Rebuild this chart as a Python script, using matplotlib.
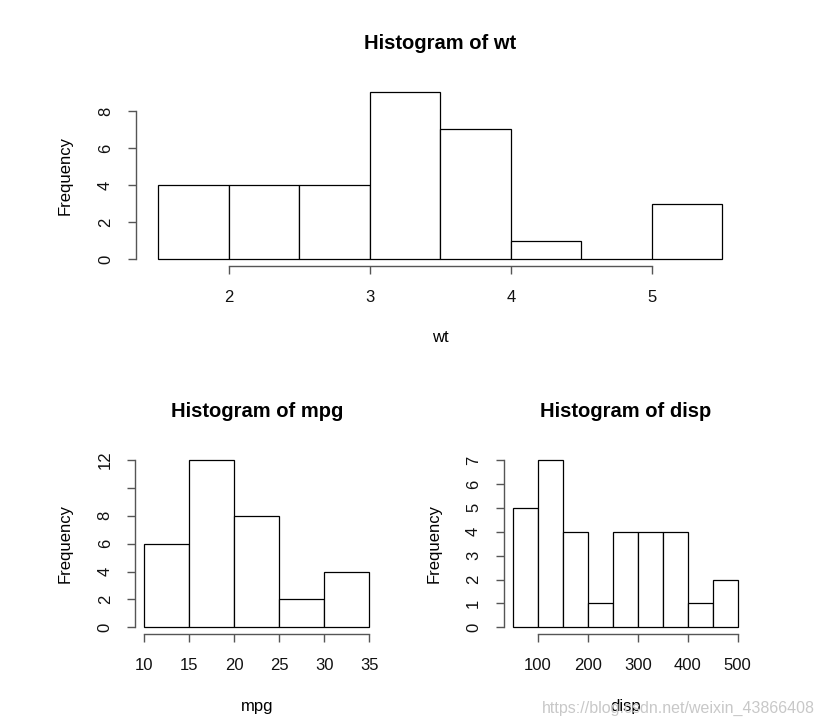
import numpy as np
import matplotlib
matplotlib.use("Agg")
import matplotlib.pyplot as plt

plt.rcParams['font.family'] = ['Liberation Sans', 'DejaVu Sans']

# ---- data ----
wt_breaks = [1.5, 2.0, 2.5, 3.0, 3.5, 4.0, 4.5, 5.0, 5.5]
wt_counts = [4, 4, 4, 9, 7, 1, 0, 3]
wt_xticks = [2, 3, 4, 5]
wt_yticks = [0, 2, 4, 6, 8]
wt_ylabels = ['0', '2', '4', '6', '8']

mpg_breaks = [10, 15, 20, 25, 30, 35]
mpg_counts = [6, 12, 8, 2, 4]
mpg_xticks = [10, 15, 20, 25, 30, 35]
mpg_yticks = [0, 2, 4, 6, 8, 10, 12]
mpg_ylabels = ['0', '2', '4', '6', '8', '', '12']

disp_breaks = [50, 100, 150, 200, 250, 300, 350, 400, 450, 500]
disp_counts = [5, 7, 4, 1, 4, 4, 4, 1, 2]
disp_xticks = [100, 200, 300, 400, 500]
disp_yticks = [0, 1, 2, 3, 4, 5, 6, 7]
disp_ylabels = ['0', '1', '2', '3', '4', '5', '6', '7']

W, H = 823, 728
fig = plt.figure(figsize=(W / 100, H / 100), dpi=100)

AX_COL = '#555555'
PX = 0.72  # points per pixel


def hist_panel(rect, breaks, counts, xticks, yticks, ylabels, name):
    ax = fig.add_axes(rect)
    b = np.asarray(breaks, dtype=float)
    ax.bar(b[:-1], counts, width=np.diff(b), align='edge',
           facecolor='white', edgecolor='black', linewidth=0.9)
    lo, hi = b[0], b[-1]
    pad = 0.04 * (hi - lo)
    ax.set_xlim(lo - pad, hi + pad)
    ymax = max(counts)
    ax.set_ylim(-0.04 * ymax, ymax * 1.04)
    for s in ('top', 'right'):
        ax.spines[s].set_visible(False)
    for s in ('left', 'bottom'):
        ax.spines[s].set_color(AX_COL)
        ax.spines[s].set_linewidth(1.0)
    ax.spines['bottom'].set_bounds(xticks[0], xticks[-1])
    ax.spines['left'].set_bounds(yticks[0], yticks[-1])
    ax.set_xticks(xticks)
    ax.set_xticklabels([str(t) for t in xticks])
    ax.set_yticks(yticks)
    ax.set_yticklabels(ylabels, rotation=90, va='center')
    ax.tick_params(axis='both', direction='out', length=8 * PX, width=1.0,
                   color=AX_COL, labelsize=12, labelcolor='#111111')
    ax.tick_params(axis='x', pad=11.5)
    ax.tick_params(axis='y', pad=10.5)
    ax.annotate('Histogram of ' + name, xy=(0.5, 1), xycoords='axes fraction',
                xytext=(0, 42 * PX), textcoords='offset points',
                ha='center', va='center', fontsize=14.5, fontweight='bold')
    ax.annotate(name, xy=(0.5, 0), xycoords='axes fraction',
                xytext=(0, -72 * PX), textcoords='offset points',
                ha='center', va='center', fontsize=12)
    ax.annotate('Frequency', xy=(0, 0.5), xycoords='axes fraction',
                xytext=(-70 * PX, 0), textcoords='offset points',
                ha='center', va='center', fontsize=12, rotation=90)
    return ax


def rect_px(left, top, right, bottom):
    return [left / W, (H - bottom) / H, (right - left) / W, (bottom - top) / H]


hist_panel(rect_px(135.6, 85.8, 745.0, 265.7), wt_breaks, wt_counts,
           wt_xticks, wt_yticks, wt_ylabels, 'wt')
hist_panel(rect_px(135.3, 453.3, 378.3, 634.0), mpg_breaks, mpg_counts,
           mpg_xticks, mpg_yticks, mpg_ylabels, 'mpg')
hist_panel(rect_px(503.7, 453.3, 746.7, 634.0), disp_breaks, disp_counts,
           disp_xticks, disp_yticks, disp_ylabels, 'disp')

fig.text(815 / W, 1 - 708 / H, 'https://blog.csdn.net/weixin_43866408',
         ha='right', va='center', fontsize=11.5, color='#c8c8c8')

fig.savefig('out.png', dpi=100, facecolor='white')
